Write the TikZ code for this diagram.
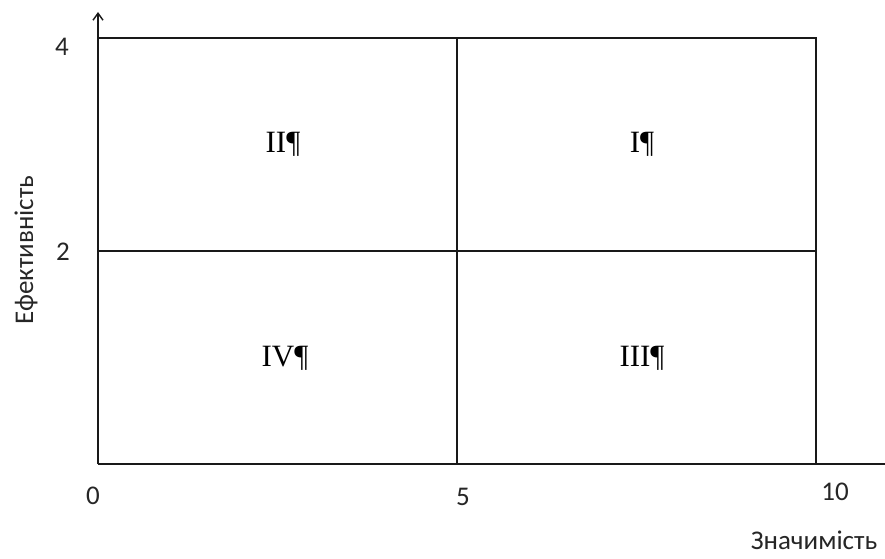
\documentclass[tikz,border=0pt]{standalone}
\usepackage{fontspec}
\usetikzlibrary{arrows.meta}
\setmainfont{Carlito}
\newfontfamily\romanfont{Liberation Serif}
\begin{document}
\begin{tikzpicture}[x=1pt,y=1pt,
  gridline/.style={draw=black!90,line width=1.4pt},
  axislabel/.style={font=\fontsize{27}{29}\selectfont,text=black!85,inner sep=0pt},
  quadlabel/.style={font=\romanfont\fontsize{31}{33}\selectfont,inner sep=0pt}]
\useasboundingbox (0,0) rectangle (885,558);
% grid coordinates
\coordinate (o) at (98,94);
\coordinate (ytop) at (98,546);
\coordinate (xend) at (885,94);
\coordinate (tl) at (98,520);
\coordinate (tm) at (457,520);
\coordinate (tr) at (816,520);
\coordinate (ml) at (98,307);
\coordinate (mr) at (816,307);
\coordinate (bm) at (457,94);
\coordinate (br) at (816,94);
% axes
\draw[gridline,-{Straight Barb[length=7pt,width=10pt]}] (o) -- (ytop);
\draw[gridline] (o) -- (xend);
% rectangle and dividers
\draw[gridline] (tl) -- (tr) -- (br);
\draw[gridline] (tm) -- (bm);
\draw[gridline] (ml) -- (mr);
% tick labels
\node[axislabel] (l4) at (62,511) {4};
\node[axislabel] (l2) at (63,306) {2};
\node[axislabel] (l0) at (93,62) {0};
\node[axislabel] (l5) at (463,61) {5};
\node[axislabel] (l10) at (835,66) {10};
% axis titles
\node[axislabel] (xt) at (814,18) {Значимість};
\node[axislabel,rotate=90] (yt) at (26,308) {Ефективність};
% quadrant labels
\node[quadlabel] (q2) at (283,414) {II¶};
\node[quadlabel] (q1) at (642,414) {I¶};
\node[quadlabel] (q4) at (285,200) {IV¶};
\node[quadlabel] (q3) at (642,200) {III¶};
\end{tikzpicture}
\end{document}
